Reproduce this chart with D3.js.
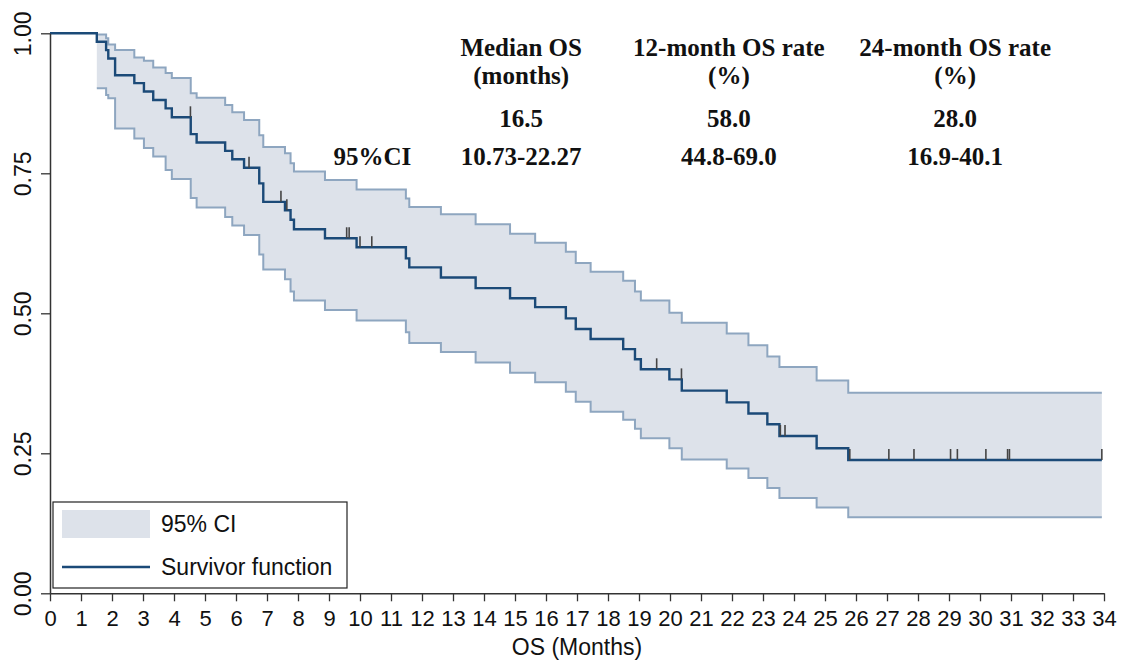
<!DOCTYPE html>
<html>
<head>
<meta charset="utf-8">
<script src="https://cdn.jsdelivr.net/npm/d3@7"></script>
<style>
  body { margin: 0; background: #fff; }
  .axisText { font-family: "Liberation Sans", Arial, sans-serif; font-size: 23px; fill: #111; }
  .xTickText { font-family: "Liberation Sans", Arial, sans-serif; font-size: 22px; fill: #111; }
  .tableText { font-family: "Liberation Serif", "Times New Roman", serif; font-weight: bold; font-size: 25px; fill: #111; }
</style>
</head>
<body>
<div id="chart"></div>
<script>
// Kaplan-Meier data (months, survival and 95% CI after each event)
var eventMonths = [1.51, 1.81, 1.88, 2.10, 2.72, 3.03, 3.33, 3.73, 3.93, 4.54, 4.73, 5.65, 5.88, 6.26, 6.75, 6.88,
  7.58, 7.76, 7.87, 8.87, 9.89, 11.48, 11.59, 12.61, 13.73, 14.84, 15.65, 16.64, 16.96, 17.44, 18.49, 18.87,
  19.06, 19.98, 20.38, 21.83, 22.53, 23.14, 23.53, 24.73, 25.75];
var survival = [0.985, 0.970, 0.955, 0.925, 0.911, 0.896, 0.881, 0.866, 0.850, 0.820, 0.805, 0.790, 0.775, 0.760, 0.732, 0.699,
  0.684, 0.667, 0.650, 0.634, 0.618, 0.598, 0.582, 0.564, 0.545, 0.527, 0.511, 0.491, 0.472, 0.454, 0.436, 0.418,
  0.400, 0.382, 0.362, 0.341, 0.321, 0.302, 0.281, 0.259, 0.238];
var ciUpper = [0.998, 0.991, 0.980, 0.970, 0.957, 0.951, 0.939, 0.929, 0.920, 0.893, 0.885, 0.872, 0.859, 0.845, 0.818, 0.797,
  0.786, 0.768, 0.753, 0.738, 0.721, 0.705, 0.690, 0.677, 0.659, 0.642, 0.626, 0.610, 0.590, 0.574, 0.558, 0.539,
  0.523, 0.501, 0.483, 0.464, 0.443, 0.423, 0.404, 0.380, 0.358];
var ciLower = [0.902, 0.890, 0.884, 0.830, 0.812, 0.795, 0.780, 0.756, 0.740, 0.706, 0.689, 0.672, 0.657, 0.640, 0.605, 0.578,
  0.561, 0.539, 0.523, 0.506, 0.487, 0.466, 0.447, 0.431, 0.412, 0.394, 0.377, 0.360, 0.342, 0.324, 0.310, 0.294,
  0.277, 0.259, 0.239, 0.223, 0.206, 0.188, 0.170, 0.153, 0.136];
var censorMonths = [4.53, 6.42, 7.45, 7.64, 9.57, 9.65, 10.0, 10.38, 19.57, 20.37, 23.56, 23.71,
  25.80, 27.06, 27.87, 29.05, 29.27, 30.19, 30.89, 30.95, 33.93];
var lastMonth = 33.93;

var xTicks = d3.range(0, 35);
var yTicks = [0, 0.25, 0.5, 0.75, 1];

var tableHeads = [["Median OS", "(months)"], ["12-month OS rate", "(%)"], ["24-month OS rate", "(%)"]];
var tableEstimates = ["16.5", "58.0", "28.0"];
var tableCIs = ["10.73-22.27", "44.8-69.0", "16.9-40.1"];
var tableColMonths = [15.2, 21.9, 29.2];

var svgWidth = 1137;
var svgHeight = 665;

var svg = d3.select("#chart")
  .append("svg")
  .attr("width", svgWidth)
  .attr("height", svgHeight);

var x = d3.scaleLinear().domain([0, 34]).range([50, 1104]);
var y = d3.scaleLinear().domain([0, 1]).range([593.3, 33.3]);

var navy = "#1b4a78";
var ciLine = "#8ea6c0";
var ciFill = "#dde2ea";

// CI band
var bandData = eventMonths.map((t, i) => ({ t: t, lo: ciLower[i], up: ciUpper[i] }));
bandData.push({ t: lastMonth, lo: ciLower[ciLower.length - 1], up: ciUpper[ciUpper.length - 1] });

svg.append("path")
  .datum(bandData)
  .attr("fill", ciFill)
  .attr("d", d3.area().curve(d3.curveStepAfter)
    .x(d => x(d.t)).y0(d => y(d.lo)).y1(d => y(d.up)));

var ciLineGen = key => d3.line().curve(d3.curveStepAfter).x(d => x(d.t)).y(d => y(d[key]));
["lo", "up"].forEach(function(key) {
  svg.append("path")
    .datum(bandData)
    .attr("fill", "none")
    .attr("stroke", ciLine)
    .attr("stroke-width", 2)
    .attr("d", ciLineGen(key));
});

// survivor function
var survData = [{ t: 0, s: 1 }].concat(eventMonths.map((t, i) => ({ t: t, s: survival[i] })));
survData.push({ t: lastMonth, s: survival[survival.length - 1] });

svg.append("path")
  .datum(survData)
  .attr("fill", "none")
  .attr("stroke", navy)
  .attr("stroke-width", 2.4)
  .attr("d", d3.line().curve(d3.curveStepAfter).x(d => x(d.t)).y(d => y(d.s)));

// censor marks
function survAt(t) {
  var i = d3.bisectRight(eventMonths, t) - 1;
  return i < 0 ? 1 : survival[i];
}
svg.append("g").selectAll("line")
  .data(censorMonths)
  .enter()
  .append("line")
  .attr("x1", d => x(d)).attr("x2", d => x(d))
  .attr("y1", d => y(survAt(d)))
  .attr("y2", d => y(survAt(d)) - 11)
  .attr("stroke", "#444")
  .attr("stroke-width", 1.6);

// axes
var xAxis = svg.append("g")
  .attr("transform", `translate(0, ${y(0)})`)
  .call(d3.axisBottom(x).tickValues(xTicks).tickSize(8).tickSizeOuter(0).tickPadding(9));
var yAxis = svg.append("g")
  .attr("transform", `translate(${x(0)}, 0)`)
  .call(d3.axisLeft(y).tickValues(yTicks).tickSize(9).tickSizeOuter(0).tickFormat(d3.format(".2f")));

[xAxis, yAxis].forEach(function(ax) {
  ax.select(".domain").attr("stroke", "#333").attr("stroke-width", 1.5);
  ax.selectAll(".tick line").attr("stroke", "#333").attr("stroke-width", 1.3);
  ax.selectAll("text").attr("fill", "#111").attr("font-family", null).attr("font-size", null);
});
xAxis.selectAll("text").attr("class", "xTickText");
yAxis.selectAll("text").attr("class", "axisText");

yAxis.selectAll("text")
  .attr("transform", "rotate(-90)")
  .attr("x", 0)
  .attr("y", -19)
  .attr("dy", "0")
  .attr("text-anchor", "middle");

svg.append("text")
  .attr("class", "axisText")
  .attr("x", x(17))
  .attr("y", 655)
  .attr("text-anchor", "middle")
  .text("OS (Months)");

// legend
var legend = svg.append("g");
legend.append("rect")
  .attr("x", 53).attr("y", 502).attr("width", 294).attr("height", 86)
  .attr("fill", "#fff").attr("stroke", "#222").attr("stroke-width", 1.2);
legend.append("rect")
  .attr("x", 62).attr("y", 510).attr("width", 88).attr("height", 28)
  .attr("fill", ciFill);
legend.append("line")
  .attr("x1", 62).attr("x2", 150).attr("y1", 567).attr("y2", 567)
  .attr("stroke", navy).attr("stroke-width", 2.4);
legend.append("text").attr("class", "axisText").attr("x", 161).attr("y", 532).text("95% CI");
legend.append("text").attr("class", "axisText").attr("x", 161).attr("y", 575).text("Survivor function");

// summary table
var table = svg.append("g");
tableColMonths.forEach(function(m, i) {
  var cx = x(m);
  table.append("text").attr("class", "tableText").attr("x", cx).attr("y", 56).attr("text-anchor", "middle").text(tableHeads[i][0]);
  table.append("text").attr("class", "tableText").attr("x", cx).attr("y", 84).attr("text-anchor", "middle").text(tableHeads[i][1]);
  table.append("text").attr("class", "tableText").attr("x", cx).attr("y", 127).attr("text-anchor", "middle").text(tableEstimates[i]);
  table.append("text").attr("class", "tableText").attr("x", cx).attr("y", 165).attr("text-anchor", "middle").text(tableCIs[i]);
});
table.append("text").attr("class", "tableText").attr("x", x(10.4)).attr("y", 165).attr("text-anchor", "middle").text("95%CI");
</script>
</body>
</html>
